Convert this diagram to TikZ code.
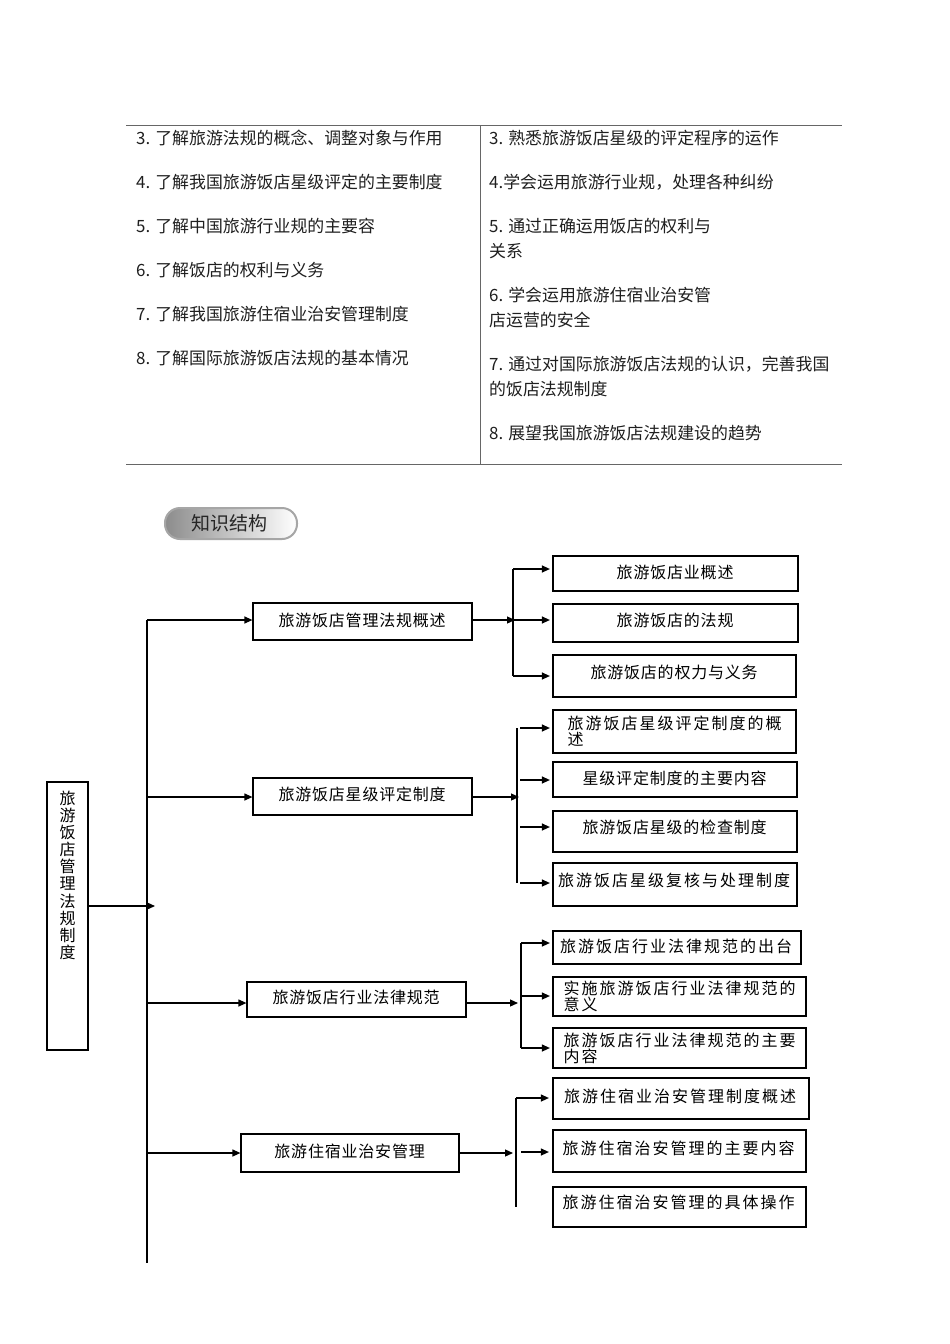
\documentclass[tikz,border=0pt]{standalone}
\usepackage{fontspec}
\setmainfont{Noto Sans CJK SC}
\usetikzlibrary{arrows.meta}
\makeatletter
\newcommand\myspaced[2]{\def\my@gap{#1}\my@loop#2\relax}
\def\my@loop#1{\ifx#1\relax\else#1\hskip\my@gap\relax\expandafter\my@loop\fi}
\makeatother
\newcommand\bx[7][]{\node[box,#1,minimum width={(#5-#3)*1pt},minimum height={(#6-#4)*1pt}] (#2) at ({(#3+#5)/2},{(#4+#6)/2}) {#7};}
\newcommand\nsp[1]{\myspaced{0.8pt}{#1}}
\newcommand\wsp[1]{\myspaced{2pt}{#1}}
\newcommand\up[2]{\raisebox{#1}[\height][\depth]{#2}}
\tikzset{
  x=1pt, y=-1pt,
  box/.style={draw=black, line width=1.2pt, inner sep=0pt, align=left, font=\fontsize{16}{16}\selectfont},
  tab/.style={anchor=west, inner sep=0pt, font=\fontsize{16.9}{20}\selectfont, text=black!88},
  conn/.style={line width=1.2pt, draw=black},
  arr/.style={conn, -{Triangle[length=8pt,width=7pt]}},
  rule/.style={draw=black!60, line width=1pt}
}
\begin{document}
\begin{tikzpicture}
\useasboundingbox[fill=white] (0,0) rectangle (950,1344);
% ---- table ----
\draw[rule] (126,125) -- (842,125);
\draw[rule] (126,464) -- (842,464);
\draw[rule] (480,125) -- (480,464);
\node[tab] (l3) at (136,138) {3. 了解旅游法规的概念、调整对象与作用};
\node[tab] (l4) at (136,182) {4. 了解我国旅游饭店星级评定的主要制度};
\node[tab] (l5) at (136,226) {5. 了解中国旅游行业规的主要容};
\node[tab] (l6) at (136,270) {6. 了解饭店的权利与义务};
\node[tab] (l7) at (136,314) {7. 了解我国旅游住宿业治安管理制度};
\node[tab] (l8) at (136,358) {8. 了解国际旅游饭店法规的基本情况};
\node[tab] (r3) at (489,138) {3. 熟悉旅游饭店星级的评定程序的运作};
\node[tab] (r4) at (489,182) {4.学会运用旅游行业规，处理各种纠纷};
\node[tab] (r5) at (489,226) {5. 通过正确运用饭店的权利与};
\node[tab] (r5b) at (489,251) {关系};
\node[tab] (r6) at (489,295) {6. 学会运用旅游住宿业治安管};
\node[tab] (r6b) at (489,320) {店运营的安全};
\node[tab] (r7) at (489,364) {7. 通过对国际旅游饭店法规的认识，完善我国};
\node[tab] (r7b) at (489,389) {的饭店法规制度};
\node[tab] (r8) at (489,433) {8. 展望我国旅游饭店法规建设的趋势};
% ---- badge ----
\shade[left color=black!45, right color=white, rounded corners=15pt] (165,508) rectangle (297,539);
\draw[black!35, line width=2pt, rounded corners=15pt] (165,508) rectangle (297,539);
\node[inner sep=0pt, font=\fontsize{19}{20}\selectfont, text=black!85] (badge) at (229,523) {知识结构};
% ---- root ----
\node[box, minimum width=41pt, minimum height=268pt, align=center] (root) at (67.5,916)
  {\parbox[c][268pt][t]{20pt}{\centering\fontsize{16}{17.1}\selectfont\vspace*{9pt}旅\\游\\饭\\店\\管\\理\\法\\规\\制\\度}};
% ---- level 1 ----
\bx{A}{253}{603}{472}{640}{\up{1pt}{\nsp{旅游饭店管理法规概述}}}
\bx{B}{253}{778}{472}{815}{\up{2pt}{\nsp{旅游饭店星级评定制度}}}
\bx{C}{247}{982}{466}{1017}{\up{2pt}{\nsp{旅游饭店行业法律规范}}}
\bx{D}{241}{1134}{459}{1172}{\up{2pt}{\nsp{旅游住宿业治安管理}}}
% ---- level 2 ----
\bx{a1}{553}{556}{798}{591}{\up{1pt}{\nsp{旅游饭店业概述}}}
\bx{a2}{553}{604}{798}{642}{\up{3pt}{\nsp{旅游饭店的法规}}}
\bx{a3}{553}{655}{796}{697}{\up{4pt}{\nsp{旅游饭店的权力与义务}}}
\bx{b1}{553}{710}{796}{753}{\wsp{旅游饭店星级评定制度的概}\\\wsp{述}}
\bx{b2}{553}{762}{797}{797}{\up{1pt}{\nsp{星级评定制度的主要内容}}}
\bx{b3}{553}{811}{797}{852}{\up{4pt}{\nsp{旅游饭店星级的检查制度}}}
\bx{b4}{553}{863}{797}{906}{\up{4pt}{\wsp{旅游饭店星级复核与处理制度}}}
\bx{c1}{553}{931}{801}{964}{\up{1pt}{\wsp{旅游饭店行业法律规范的出台}}}
\bx{c2}{553}{977}{806}{1016}{\wsp{实施旅游饭店行业法律规范的}\\\wsp{意义}}
\bx{c3}{553}{1028}{806}{1068}{\wsp{旅游饭店行业法律规范的主要}\\\wsp{内容}}
\bx{d1}{553}{1078}{809}{1119}{\up{2pt}{\wsp{旅游住宿业治安管理制度概述}}}
\bx{d2}{553}{1130}{806}{1172}{\up{3pt}{\wsp{旅游住宿治安管理的主要内容}}}
\bx{d3}{553}{1187}{806}{1227}{\up{5pt}{\wsp{旅游住宿治安管理的具体操作}}}
% ---- trunk ----
\coordinate (trTop) at (147,620);
\coordinate (trBot) at (147,1263);
\draw[conn] (trTop) -- (trBot);
\coordinate (rootIn) at (155,906);
\draw[arr] (root.east |- rootIn) -- (rootIn);
\coordinate (tA) at (147,620);
\coordinate (tB) at (147,797);
\coordinate (tC) at (147,1003);
\coordinate (tD) at (147,1153);
\draw[arr] (tA) -- (tA -| A.west);
\draw[arr] (tB) -- (tB -| B.west);
\draw[arr] (tC) -- (tC -| C.west);
\draw[arr] (tD) -- (tD -| D.west);
% ---- group 1 ----
\coordinate (g1in) at (515,620);
\draw[arr] (A.east |- g1in) -- (g1in);
\coordinate (g1a) at (513,569);
\coordinate (g1b) at (513,620);
\coordinate (g1c) at (513,676);
\draw[conn] (g1a) -- (g1c);
\draw[arr, shorten >=2.5pt] (g1a) -- (g1a -| a1.west);
\draw[arr, shorten >=2.5pt] (g1b) -- (g1b -| a2.west);
\draw[arr, shorten >=2.5pt] (g1c) -- (g1c -| a3.west);
% ---- group 2 ----
\coordinate (g2in) at (519,797);
\draw[arr] (B.east |- g2in) -- (g2in);
\draw[conn] (517,728) -- (517,883);
\coordinate (g2a) at (520,728);
\coordinate (g2b) at (520,780);
\coordinate (g2c) at (520,827);
\coordinate (g2d) at (520,883);
\draw[arr, shorten >=2.5pt] (g2a) -- (g2a -| b1.west);
\draw[arr, shorten >=2.5pt] (g2b) -- (g2b -| b2.west);
\draw[arr, shorten >=2.5pt] (g2c) -- (g2c -| b3.west);
\draw[arr, shorten >=2.5pt] (g2d) -- (g2d -| b4.west);
% ---- group 3 ----
\coordinate (g3in) at (518,1003);
\draw[arr] (C.east |- g3in) -- (g3in);
\coordinate (g3a) at (521,943);
\coordinate (g3b) at (521,996);
\coordinate (g3c) at (521,1048);
\draw[conn] (g3a) -- (g3c);
\draw[arr, shorten >=2.5pt] (g3a) -- (g3a -| c1.west);
\draw[arr, shorten >=2.5pt] (g3b) -- (g3b -| c2.west);
\draw[arr, shorten >=2.5pt] (g3c) -- (g3c -| c3.west);
% ---- group 4 ----
\coordinate (g4in) at (513,1153);
\draw[arr] (D.east |- g4in) -- (g4in);
\coordinate (g4a) at (516,1098);
\coordinate (g4e) at (516,1207);
\draw[conn] (g4a) -- (g4e);
\coordinate (g4b) at (521,1152);
\draw[arr, shorten >=3.5pt] (g4a) -- (g4a -| d1.west);
\draw[arr, shorten >=3.5pt] (g4b) -- (g4b -| d2.west);
\end{tikzpicture}
\end{document}
